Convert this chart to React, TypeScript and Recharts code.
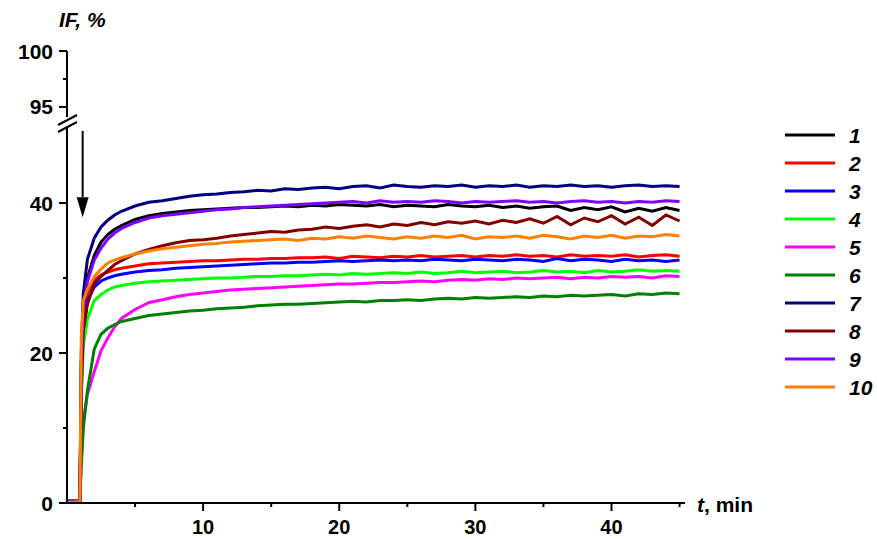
import { LineChart, Line, XAxis, YAxis, ReferenceLine, ReferenceDot } from "recharts"

const FONT = "'Liberation Sans', Arial, sans-serif"

const times = [
  0, 0.5, 0.95, 1.05, 1.2, 1.5, 2, 2.5, 3, 3.5,
  4, 5, 6, 7, 8, 9, 10,
  11, 12, 13, 14, 15, 16, 17,
  18, 19, 20, 21, 22, 23, 24,
  25, 26, 27, 28, 29, 30, 31,
  32, 33, 34, 35, 36, 37, 38,
  39, 40, 41, 42, 43, 44, 45,
]

const s1 = [
  0.1, 0.2, 0.2, 18.5, 26.5, 30.0, 33.0, 34.8, 35.8, 36.5,
  37.0, 37.8, 38.3, 38.6, 38.8, 39.0, 39.1,
  39.2, 39.3, 39.4, 39.4, 39.5, 39.6, 39.5,
  39.7, 39.6, 39.8, 39.7, 39.6, 39.8, 39.5,
  39.7, 39.6, 39.5, 39.8, 39.6, 39.5, 39.7,
  39.4, 39.6, 39.3, 39.5, 39.6, 39.0, 39.4,
  39.1, 39.5, 38.8, 39.3, 38.9, 39.4, 39.0,
]
const s2 = [
  0.1, 0.2, 0.2, 16.0, 24.0, 28.0, 29.7, 30.4, 30.8, 31.1,
  31.3, 31.6, 31.9, 32.0, 32.1, 32.2, 32.3,
  32.3, 32.4, 32.5, 32.5, 32.6, 32.6, 32.7,
  32.7, 32.8, 32.6, 32.9, 32.8, 32.7, 32.9,
  32.8, 33.0, 32.8, 32.9, 33.0, 32.8, 33.0,
  32.9, 33.1, 32.9, 33.0, 32.8, 33.1, 32.9,
  33.0, 32.9, 33.1, 32.8, 33.0, 33.1, 32.9,
]
const s3 = [
  0.1, 0.2, 0.1, 15.0, 23.0, 27.0, 28.8, 29.6, 30.0, 30.3,
  30.5, 30.8, 31.0, 31.1, 31.3, 31.4, 31.5,
  31.6, 31.7, 31.8, 31.9, 32.0, 32.0, 32.1,
  32.1, 32.2, 32.3, 32.2, 32.3, 32.4, 32.3,
  32.4, 32.3, 32.5, 32.4, 32.3, 32.5, 32.4,
  32.3, 32.5, 32.4, 32.2, 32.6, 32.3, 32.5,
  32.4, 32.2, 32.5, 32.3, 32.4, 32.2, 32.4,
]
const s4 = [
  0.3, 0.3, 0.3, 14.0, 21.0, 24.5, 27.0, 27.8, 28.4, 28.8,
  29.0, 29.3, 29.5, 29.6, 29.7, 29.8, 29.9,
  30.0, 30.0, 30.1, 30.2, 30.2, 30.3, 30.3,
  30.4, 30.5, 30.4, 30.6, 30.5, 30.6, 30.7,
  30.6, 30.8, 30.6, 30.7, 30.9, 30.7, 30.8,
  30.9, 30.7, 30.8, 31.0, 30.8, 30.9, 30.7,
  31.0, 30.8, 30.9, 31.1, 30.9, 31.0, 30.9,
]
const s5 = [
  0.2, 0.3, 0.2, 6.0, 11.0, 14.5, 17.5, 20.3, 22.0, 23.5,
  24.6, 25.8, 26.7, 27.1, 27.5, 27.8, 28.0,
  28.2, 28.4, 28.5, 28.6, 28.7, 28.8, 28.9,
  29.0, 29.1, 29.2, 29.2, 29.3, 29.4, 29.4,
  29.5, 29.6, 29.5, 29.7, 29.8, 29.7, 29.9,
  29.8, 30.0, 29.9, 30.0, 30.1, 29.9, 30.1,
  30.0, 30.2, 30.1, 30.2, 30.0, 30.3, 30.2,
]
const s6 = [
  0.3, 0.3, 0.3, 5.0, 10.0, 15.0, 20.5, 22.5, 23.3, 23.8,
  24.2, 24.6, 25.0, 25.2, 25.4, 25.6, 25.7,
  25.9, 26.0, 26.1, 26.3, 26.4, 26.5, 26.5,
  26.6, 26.7, 26.8, 26.9, 26.8, 27.0, 27.0,
  27.1, 27.0, 27.2, 27.3, 27.2, 27.4, 27.3,
  27.4, 27.5, 27.4, 27.6, 27.5, 27.7, 27.6,
  27.7, 27.8, 27.6, 27.9, 27.8, 28.0, 27.9,
]
const s7 = [
  0.2, 0.1, 0.3, 20.0, 28.0, 32.5, 35.3, 36.8, 37.7, 38.4,
  38.9, 39.6, 40.1, 40.3, 40.6, 40.9, 41.1,
  41.2, 41.4, 41.5, 41.7, 41.6, 41.9, 41.8,
  42.0, 42.1, 41.9, 42.2, 42.3, 42.0, 42.4,
  42.2, 42.1, 42.3, 42.2, 42.4, 42.1, 42.3,
  42.2, 42.4, 42.1, 42.3, 42.2, 42.4, 42.2,
  42.3, 42.1, 42.3, 42.4, 42.2, 42.3, 42.2,
]
const s8 = [
  0.1, 0.1, 0.2, 15.0, 23.0, 26.5, 29.3, 30.2, 31.0, 31.8,
  32.3, 33.2, 33.8, 34.3, 34.7, 35.0, 35.1,
  35.3, 35.6, 35.8, 36.0, 36.2, 36.1, 36.4,
  36.5, 36.8, 36.6, 36.9, 37.1, 36.8, 37.2,
  37.0, 37.4, 37.1, 37.5, 37.3, 37.6, 37.2,
  37.7, 37.4, 37.9, 37.3, 38.2, 37.1, 38.0,
  37.5, 38.3, 37.2, 38.1, 37.0, 38.4, 37.6,
]
const s9 = [
  0.1, 0.2, 0.2, 18.0, 26.0, 29.5, 32.4, 34.0, 35.2, 36.0,
  36.6, 37.4, 38.0, 38.3, 38.5, 38.7, 38.9,
  39.1, 39.2, 39.4, 39.5, 39.6, 39.7, 39.8,
  39.9, 40.0, 40.1, 40.2, 40.0, 40.3, 40.1,
  40.2, 40.1, 40.3, 40.2, 40.0, 40.2, 40.1,
  40.2, 40.3, 40.1, 40.2, 40.0, 40.2, 40.3,
  40.1, 40.2, 40.0, 40.2, 40.1, 40.3, 40.2,
]
const s10 = [
  0.1, 0.1, 0.2, 22.0, 27.0, 28.5, 30.2, 31.2, 32.0, 32.4,
  32.7, 33.2, 33.6, 33.9, 34.1, 34.3, 34.5,
  34.6, 34.8, 34.9, 35.0, 35.1, 35.2, 35.0,
  35.3, 35.2, 35.5, 35.3, 35.6, 35.4, 35.2,
  35.5, 35.3, 35.6, 35.4, 35.7, 35.2, 35.5,
  35.4, 35.6, 35.3, 35.7, 35.5, 35.2, 35.6,
  35.4, 35.7, 35.3, 35.6, 35.5, 35.8, 35.6,
]

const seriesValues = [s1, s2, s3, s4, s5, s6, s7, s8, s9, s10]
const seriesNames = ["1", "2", "3", "4", "5", "6", "7", "8", "9", "10"]
const seriesColors = [
  "#000000", "#ff0000", "#0000ff", "#00ff00", "#ff00ff",
  "#008000", "#000080", "#800000", "#8000ff", "#ff8000",
]

const xTicks = [5, 10, 15, 20, 25, 30, 35, 40, 45]
const yLowTicks = [0, 10, 20, 30, 40]
const yHighTicks = [95, 97.5, 100]

const data = times.map((t, i) => {
  const row: Record<string, number> = { t }
  seriesValues.forEach((vals, k) => {
    row["s" + (k + 1)] = vals[i]
  })
  return row
})

const XTick = (props: any) => {
  const { x, y, payload } = props
  const major = payload.value % 10 === 0
  return (
    <g>
      <line x1={x} y1={y} x2={x} y2={y + (major ? 8 : 4)} stroke="#000" strokeWidth={2} />
      {major && (
        <text x={x} y={y + 31} textAnchor="middle" fontFamily={FONT} fontWeight="bold" fontSize={20} fill="#000">
          {payload.value}
        </text>
      )}
    </g>
  )
}

const YTick = (props: any) => {
  const { x, y, payload } = props
  const v = payload.value
  const major = v === 0 || v === 20 || v === 40 || v === 95 || v === 100
  return (
    <g>
      <line x1={x - (major ? 8 : 4)} y1={y} x2={x} y2={y} stroke="#000" strokeWidth={2} />
      {major && (
        <text x={x - 14} y={y} dy="0.36em" textAnchor="end" fontFamily={FONT} fontWeight="bold" fontSize={21} fill="#000">
          {v}
        </text>
      )}
    </g>
  )
}

const ArrowHead = (props: any) => {
  const { cx, cy } = props
  return <polygon points={`${cx - 6},${cy - 20} ${cx + 6},${cy - 20} ${cx},${cy}`} fill="#000" />
}

export default function App() {
  return (
    <div style={{ position: "absolute", left: 0, top: 0, width: 877, height: 539, background: "#fff" }}>
      <div style={{ position: "absolute", left: 0, top: 0 }}>
        <LineChart width={877} height={130} data={data} margin={{ top: 51, right: 192, bottom: 13, left: 7 }}>
          <XAxis dataKey="t" type="number" domain={[0, 45.4]} hide />
          <YAxis
            type="number"
            domain={[94.1, 100]}
            ticks={yHighTicks}
            allowDataOverflow
            width={60}
            tick={YTick}
            tickLine={false}
            tickSize={0}
            tickMargin={0}
            axisLine={{ stroke: "#000", strokeWidth: 2 }}
          />
        </LineChart>
      </div>
      <div style={{ position: "absolute", left: 0, top: 0 }}>
        <LineChart width={877} height={539} data={data} margin={{ top: 128, right: 192, bottom: 6, left: 7 }}>
          <XAxis
            dataKey="t"
            type="number"
            domain={[0, 45.4]}
            ticks={xTicks}
            allowDataOverflow
            height={30}
            tick={XTick}
            tickLine={false}
            tickSize={0}
            tickMargin={0}
            axisLine={{ stroke: "#000", strokeWidth: 2 }}
          />
          <YAxis
            type="number"
            domain={[0, 50]}
            ticks={yLowTicks}
            allowDataOverflow
            width={60}
            tick={YTick}
            tickLine={false}
            tickSize={0}
            tickMargin={0}
            axisLine={{ stroke: "#000", strokeWidth: 2 }}
          />
          {seriesNames.map((name, k) => (
            <Line
              key={name}
              dataKey={"s" + (k + 1)}
              type="linear"
              stroke={seriesColors[k]}
              strokeWidth={3}
              dot={false}
              isAnimationActive={false}
            />
          ))}
          <ReferenceLine
            segment={[{ x: 1.15, y: 49.6 }, { x: 1.15, y: 40.8 }]}
            stroke="#000"
            strokeWidth={2}
          />
          <ReferenceDot x={1.15} y={38.1} shape={ArrowHead} />
        </LineChart>
      </div>
      <svg width={877} height={539} style={{ position: "absolute", left: 0, top: 0, pointerEvents: "none" }}>
        <text x={59} y={27} fontFamily={FONT} fontWeight="bold" fontStyle="italic" fontSize={21} fill="#000">
          IF, %
        </text>
        <text x={697} y={512} fontFamily={FONT} fontWeight="bold" fontSize={21} fill="#000">
          <tspan fontStyle="italic">t</tspan>, min
        </text>
        <line x1={58} y1={125} x2={77} y2={115} stroke="#000" strokeWidth={2} />
        <line x1={58} y1={132} x2={77} y2={122} stroke="#000" strokeWidth={2} />
        {seriesNames.map((name, k) => (
          <g key={name}>
            <line x1={785} y1={135 + 28 * k} x2={835} y2={135 + 28 * k} stroke={seriesColors[k]} strokeWidth={3} />
            <text x={849} y={135 + 28 * k} dy="0.36em" fontFamily={FONT} fontWeight="bold" fontStyle="italic" fontSize={21} fill="#000">
              {name}
            </text>
          </g>
        ))}
      </svg>
    </div>
  )
}
